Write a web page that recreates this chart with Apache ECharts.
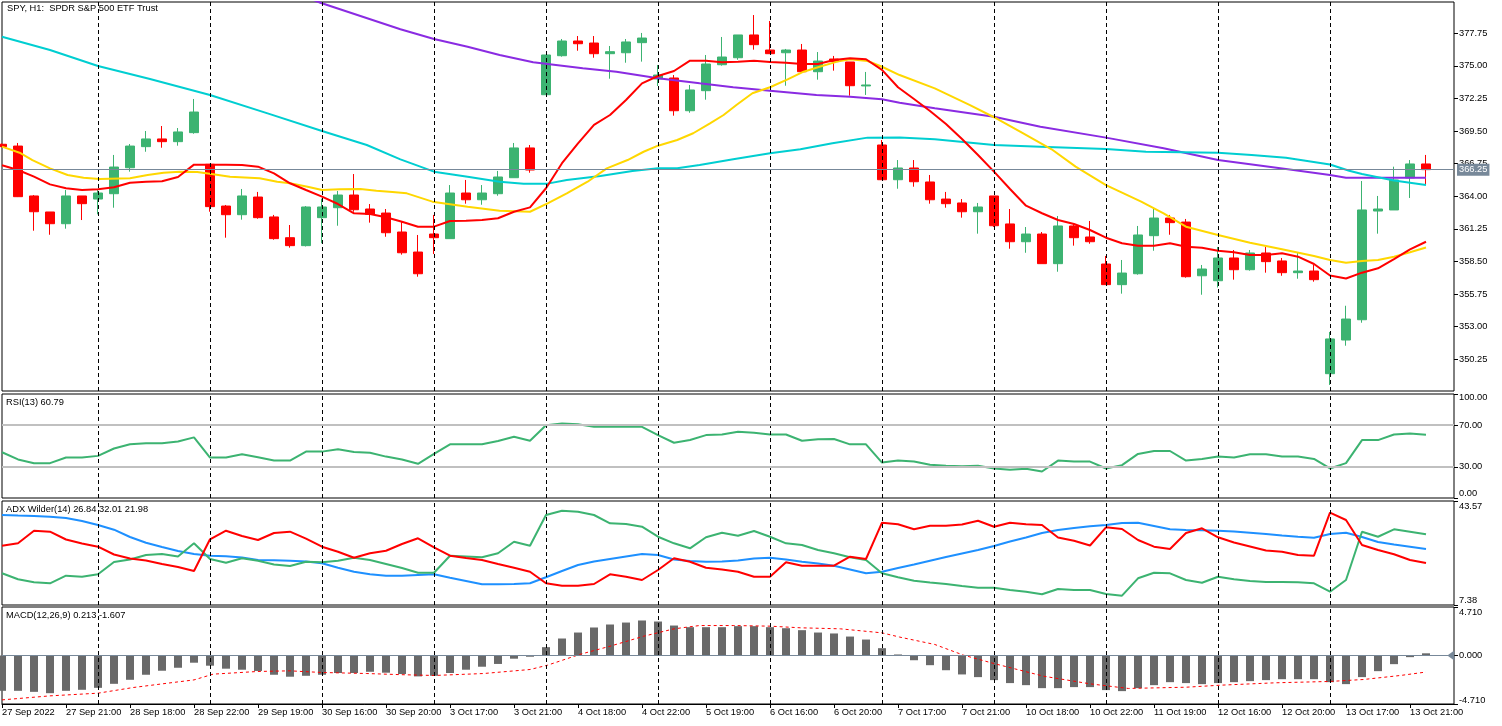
<!DOCTYPE html>
<html><head><meta charset="utf-8">
<script src="https://cdn.jsdelivr.net/npm/echarts@6.0.0/dist/echarts.min.js"></script>
<style>html,body{margin:0;padding:0;background:#fff;}#c{width:1502px;height:726px;}</style>
</head><body><div id="c"></div>
<script>
// ---------- DATA ----------
const days = ['27 Sep','28 Sep','29 Sep','30 Sep','3 Oct','4 Oct','5 Oct','6 Oct','7 Oct','10 Oct','11 Oct','12 Oct','13 Oct'];
const hours = ['16:00','17:00','18:00','19:00','20:00','21:00','22:00'];
const categories = [];
days.forEach(d => hours.forEach(h => categories.push(d + ' ' + h)));
categories.shift(); // first visible bar is 27 Sep 17:00

const opens  = [368.39,368.24,364.03,362.68,361.69,364.03,363.77,364.22,366.41,368.19,368.84,368.61,369.37,366.70,363.18,362.45,363.94,362.26,360.51,359.84,362.20,363.04,364.11,362.93,362.59,360.99,359.30,360.82,360.43,364.28,363.71,364.22,365.57,368.08,372.57,375.86,377.10,376.93,376.03,376.11,376.96,373.90,373.98,371.22,372.91,375.10,375.69,377.61,376.34,376.11,376.34,374.51,375.58,375.33,373.31,368.33,365.40,366.39,365.21,363.77,363.44,362.70,364.03,361.67,360.17,360.82,358.32,361.50,360.57,358.29,356.55,357.47,360.68,362.17,361.83,357.30,356.88,358.80,357.81,359.22,358.55,357.56,357.70,349.04,351.88,353.59,362.76,362.85,365.55,366.73];
const closes = [368.19,363.97,362.70,361.69,364.03,363.38,364.28,366.47,368.24,368.84,368.61,369.43,371.11,363.13,362.45,364.03,362.20,360.43,359.84,363.10,363.10,364.11,362.87,362.48,360.93,359.24,357.47,360.51,364.28,363.71,364.28,365.63,368.08,366.22,375.92,377.10,376.87,376.03,376.20,377.02,377.35,374.23,371.22,372.97,375.16,375.75,377.61,376.79,376.03,376.34,374.51,375.41,375.36,373.33,373.39,365.40,366.39,365.23,363.71,363.38,362.70,363.10,361.52,360.17,360.82,358.32,361.50,360.51,360.17,356.55,357.53,360.74,362.17,361.78,357.22,357.87,358.80,357.81,359.22,358.49,357.56,357.70,356.97,351.97,353.65,362.85,362.93,365.38,366.73,366.25];
const lows   = [368.15,363.94,361.10,360.76,361.27,362.00,362.48,363.04,366.08,367.76,368.10,368.27,369.28,362.70,360.51,362.03,362.11,360.34,359.67,359.77,360.04,361.52,362.70,361.78,360.59,359.08,357.22,359.13,360.43,363.38,363.29,364.05,365.57,365.99,372.57,375.78,376.28,375.69,373.92,375.27,375.36,373.31,370.80,371.05,372.15,375.02,375.52,376.37,376.03,373.33,374.51,373.84,374.60,372.49,372.55,365.40,364.64,364.81,363.38,363.04,362.20,360.85,361.41,359.58,359.24,358.32,357.64,359.84,360.00,356.55,355.79,357.39,359.41,360.76,357.14,355.70,356.31,356.97,357.73,357.56,357.30,357.05,356.80,348.09,351.40,353.34,360.85,362.85,363.86,365.04];
const highs  = [368.45,368.50,364.11,362.68,364.53,364.03,364.53,367.49,368.41,369.51,369.93,369.76,372.21,366.73,363.27,364.62,364.37,362.43,361.58,363.18,363.80,364.45,365.88,363.35,362.93,361.83,360.74,362.43,364.95,365.38,364.95,366.14,368.50,368.33,375.92,377.27,377.52,377.52,376.68,377.27,377.78,375.08,374.23,373.39,375.92,377.44,377.61,379.29,378.79,376.43,376.85,376.17,375.84,375.33,374.49,368.75,367.06,367.06,365.80,364.37,363.77,363.44,364.03,362.93,361.41,360.99,362.34,361.67,361.92,358.97,358.63,361.50,363.02,362.43,362.09,358.21,359.73,359.47,359.47,359.73,358.80,359.22,358.21,352.56,354.77,365.29,364.03,366.50,367.06,367.49];

const maRed = [366.62,366.22,365.66,365.01,364.68,364.53,364.59,364.76,365.15,365.23,365.27,365.63,366.67,366.67,366.67,366.64,366.50,365.94,365.10,364.53,363.97,363.35,362.57,362.51,362.23,361.86,361.44,361.44,361.92,361.94,362.00,362.15,362.70,363.07,364.68,366.79,368.47,370.02,370.86,372.13,373.53,374.15,374.57,375.44,375.44,375.31,375.36,375.44,375.33,375.27,375.16,375.16,375.50,375.64,375.56,374.66,373.20,372.21,371.20,370.10,368.84,367.49,366.08,364.62,363.21,362.57,362.00,361.67,361.16,360.51,360.04,359.84,359.84,360.04,359.75,359.67,359.41,359.28,359.05,359.05,359.19,358.91,358.29,357.32,357.07,357.56,357.93,358.71,359.52,360.17];
const maYellow = [[0,368.19],[1.1,367.68],[1.9,367.06],[3,366.36],[4.1,365.80],[5.1,365.57],[6.1,365.46],[8,365.52],[9.1,365.80],[10.1,365.99],[11.1,366.08],[12.2,366.05],[13.2,365.86],[14.25,365.65],[16.1,365.52],[17.2,365.23],[18,365.10],[19.1,364.81],[20,364.53],[21.1,364.59],[22.4,364.62],[23.4,364.47],[24.4,364.36],[25.3,364.25],[26.9,363.55],[29.1,363.12],[31.1,362.79],[33,362.70],[34.1,363.41],[35.3,364.25],[36.6,365.23],[37.8,366.36],[39.1,367.06],[40.1,367.76],[41,368.27],[42.2,368.75],[43.2,369.32],[44.25,370.16],[45.1,370.86],[45.9,371.70],[46.9,372.69],[48,373.20],[49.1,373.87],[50.1,374.51],[51.1,374.93],[52.2,375.36],[53,375.56],[54.1,375.41],[55,374.93],[56.1,374.23],[58.3,373.11],[60.5,371.70],[62,370.67],[63.8,369.32],[65.6,367.97],[67.1,366.50],[69,364.95],[71.2,363.55],[72.6,362.57],[74,361.44],[76,360.74],[78,360.09],[80,359.53],[82,358.97],[83,358.63],[84,358.40],[85,358.54],[86,358.63],[87,358.91],[88,359.28],[89,359.68]];
const maCyan = [[0,377.46],[3,376.34],[6,374.99],[9.25,373.90],[13,372.55],[16.6,371.00],[20,369.51],[22.8,368.33],[24.9,367.12],[27,366.08],[29.1,365.66],[31.1,365.23],[32.6,365.07],[34.1,365.07],[35.3,365.38],[37.4,365.71],[39.4,366.14],[41,366.36],[42.2,366.36],[43.6,366.64],[45.7,367.12],[48,367.63],[49.9,367.97],[51.9,368.47],[54.1,368.95],[56.1,368.96],[58.3,368.81],[62,368.33],[64.9,368.19],[69,367.99],[71.5,367.76],[76,367.68],[78.1,367.49],[80.25,367.26],[83,366.68],[84.2,366.16],[85,365.88],[87,365.33],[89,364.95]];
const maPurple = [[18.5,381.07],[19.9,380.33],[24.9,378.09],[27,377.27],[29.1,376.62],[31.1,375.92],[33.2,375.31],[34.1,375.16],[36.3,374.80],[38.4,374.51],[41,373.96],[43.6,373.53],[45.7,373.20],[48,372.91],[50.9,372.55],[53,372.40],[55,372.18],[56.1,371.90],[58.3,371.42],[62,370.72],[64.9,369.87],[69,368.95],[72.6,368.05],[76,367.06],[80.25,366.30],[83,365.80],[84,365.57],[89,365.57]];

const rsi = [44.0,37.1,33.5,33.5,38.9,38.9,40.5,47.6,51.6,52.6,52.6,54.3,58.3,38.9,38.9,42.1,39.2,36.0,36.0,44.6,44.6,46.9,44.3,43.6,39.8,37.1,32.9,42.4,51.6,51.6,51.6,54.8,58.9,55.0,70.0,71.6,71.0,68.4,68.4,68.4,68.4,60.5,53.1,55.7,60.5,61.1,63.6,62.7,61.1,61.1,55.0,56.4,56.7,51.6,51.6,34.1,36.0,35.0,31.9,31.0,30.5,31.0,28.4,27.1,28.1,25.5,36.0,35.0,35.0,28.4,31.6,42.4,45.2,45.2,36.0,37.6,39.8,38.9,42.1,42.1,39.8,39.8,37.6,28.4,33.5,55.7,55.7,61.0,62.1,60.79];

const adxMain = [38.70,38.52,38.35,38.10,37.65,36.61,35.22,33.58,31.04,29.06,27.56,26.17,25.13,24.53,24.33,23.91,23.04,22.93,22.79,22.52,21.89,20.36,18.97,18.06,17.57,17.57,17.82,18.06,16.88,15.73,14.58,14.58,14.69,14.93,17.02,19.21,21.30,22.52,23.39,24.26,25.13,24.78,23.21,22.69,22.45,22.52,22.86,23.56,23.84,23.21,22.45,21.82,21.05,19.73,18.41,18.97,20.25,21.47,22.79,24.08,25.30,26.52,27.91,29.47,30.87,32.43,33.48,34.17,34.76,35.22,35.91,36.02,34.87,33.72,33.48,33.37,33.23,32.95,32.54,32.08,31.56,31.14,30.80,32.08,32.54,31.04,29.30,28.43,27.67,26.84];
const plusDI = [18.41,16.32,15.28,14.93,17.57,17.23,18.06,22.34,23.21,24.78,25.13,24.26,28.85,23.39,22.10,23.63,22.79,21.47,20.95,22.45,22.24,22.79,23.84,23.04,21.65,20.25,18.62,18.62,24.53,24.26,23.98,25.37,29.41,28.01,38.70,40.19,39.84,38.70,35.81,35.56,34.62,31.14,28.85,27.11,30.94,32.54,31.49,33.13,31.14,28.85,28.26,26.52,25.37,23.98,23.04,18.41,17.02,15.84,15.21,14.69,13.99,13.40,13.40,12.60,12.01,11.10,12.95,12.60,12.60,11.21,10.62,16.67,18.62,18.41,16.08,15.14,17.23,16.32,15.73,15.38,15.38,15.28,14.93,12.01,16.08,32.89,31.14,33.72,32.89,32.01];
const minusDI = [28.01,28.85,33.23,32.89,30.17,28.78,27.67,24.95,23.56,22.86,21.65,20.60,19.21,30.24,33.23,31.39,29.99,32.43,32.89,30.45,27.67,25.93,23.84,25.37,26.27,28.60,30.59,27.46,24.53,23.73,23.04,21.65,20.36,18.97,14.93,14.10,14.10,14.69,18.06,17.23,16.08,19.56,23.63,22.45,20.36,19.73,18.97,17.23,17.23,22.24,21.05,21.05,21.05,24.19,23.39,36.02,35.46,33.72,34.97,34.97,35.39,36.71,34.62,36.02,35.46,35.22,30.87,29.75,28.08,34.42,33.82,29.99,27.67,26.87,32.43,34.07,30.94,29.13,27.74,26.34,25.93,24.78,24.53,39.50,36.96,28.26,26.52,25.02,23.04,21.98];

const macdHist = [-3.43,-3.43,-3.53,-3.66,-3.43,-3.33,-3.14,-2.75,-2.36,-1.87,-1.48,-1.19,-0.70,-0.99,-1.28,-1.38,-1.50,-1.87,-2.06,-1.97,-1.87,-1.70,-1.70,-1.58,-1.67,-1.80,-2.03,-1.97,-1.70,-1.38,-1.09,-0.82,-0.31,-0.12,0.81,1.65,2.23,2.72,3.01,3.20,3.40,3.30,2.91,2.75,2.75,2.75,2.85,2.85,2.75,2.65,2.46,2.23,2.14,1.84,1.55,0.71,0.10,-0.46,-0.94,-1.43,-1.84,-2.10,-2.39,-2.68,-2.88,-3.17,-3.17,-3.07,-3.07,-3.36,-3.46,-3.17,-2.88,-2.59,-2.68,-2.78,-2.68,-2.59,-2.49,-2.39,-2.30,-2.30,-2.30,-2.59,-2.78,-2.10,-1.52,-0.84,-0.16,0.213];
const macdSignal = [[0,-4.31],[3,-3.92],[6,-3.66],[8.2,-3.11],[10.7,-2.62],[12,-2.37],[13.2,-1.81],[16,-1.55],[18,-1.49],[20,-1.65],[22.8,-1.75],[24.9,-1.86],[27,-1.94],[30.1,-1.75],[33,-1.36],[34.1,-0.94],[36.1,0.10],[38,0.90],[40.1,1.87],[42,2.59],[43.6,2.91],[45.7,2.91],[48,2.85],[49.9,2.69],[52.4,2.59],[55,2.20],[56.1,1.79],[58.3,1.07],[60.1,0.03],[62,-0.78],[65.1,-2.01],[68,-2.75],[70.4,-3.20],[74,-3.08],[76.2,-2.88],[79.6,-2.65],[83,-2.52],[85.1,-2.33],[87.4,-1.94],[89,-1.607]];

const priceTicks = [350.25,353.00,355.75,358.50,361.25,364.00,366.75,369.50,372.25,375.00,377.75];
const lastPrice = 366.25;
const xTickIdx = [0,4,8,12,16,20,24,28,32,36,40,44,48,52,56,60,64,68,72,76,80,84,88];
const xTickLabels = ['27 Sep 2022','27 Sep 21:00','28 Sep 18:00','28 Sep 22:00','29 Sep 19:00','30 Sep 16:00','30 Sep 20:00','3 Oct 17:00','3 Oct 21:00','4 Oct 18:00','4 Oct 22:00','5 Oct 19:00','6 Oct 16:00','6 Oct 20:00','7 Oct 17:00','7 Oct 21:00','10 Oct 18:00','10 Oct 22:00','11 Oct 19:00','12 Oct 16:00','12 Oct 20:00','13 Oct 17:00','13 Oct 21:00'];
const dayStartIdx = [6,13,20,27,34,41,48,55,62,69,76,83];

// ---------- CHART ----------
const FONT = 'Liberation Sans';
const FS = 9.3;
const XMIN = 0, XMAX = 90.75;
const gridDefs = [
  {top: 2, height: 389},
  {top: 394, height: 104},
  {top: 501, height: 104},
  {top: 607, height: 97}
];
const grid = gridDefs.map(g => ({left: 2, right: 48, top: g.top, height: g.height, show: true,
  borderColor: '#000', borderWidth: 1, backgroundColor: 'transparent', containLabel: false, outerBoundsMode: 'none'}));

const xAxis = gridDefs.map((g, k) => ({
  type: 'value', gridIndex: k, min: XMIN, max: XMAX, position: 'bottom',
  axisLine: {show: k === 3, onZero: false, lineStyle: {color: '#000'}},
  axisTick: {show: k === 3, customValues: xTickIdx, length: 4, lineStyle: {color: '#000'}},
  axisLabel: {show: k === 3, customValues: xTickIdx, align: 'left', margin: 4,
    color: '#000', fontFamily: FONT, fontSize: FS,
    formatter: v => { const j = xTickIdx.indexOf(Math.round(v)); return j >= 0 ? xTickLabels[j] : ''; }},
  splitLine: {show: false}
}));

const rsiTickVals = [0, 30, 70, 100];
const rsiLabelPos = [4.5, 30, 70, 97.1];
const rsiLabelText = ['0.00', '30.00', '70.00', '100.00'];
const adxTickVals = [7.38, 43.57];
const adxLabelPos = [9.12, 41.59];
const adxLabelText = ['7.38', '43.57'];
const macdTickVals = [-4.71, 0, 4.71];
const macdLabelPos = [-4.32, 0, 4.16];
const macdLabelText = ['-4.710', '0.000', '4.710'];

function yAx(k, min, max, tickVals, labelPos, labelFn) {
  return {
    type: 'value', gridIndex: k, position: 'right', min: min, max: max, scale: true,
    axisLine: {show: false, onZero: false},
    axisTick: {show: true, inside: false, length: 4, customValues: tickVals, lineStyle: {color: '#000'}},
    axisLabel: {show: true, customValues: labelPos, margin: 5, color: '#000', fontFamily: FONT, fontSize: FS, formatter: labelFn},
    splitLine: {show: false}
  };
}
const pickLabel = (pos, txt) => v => { let b = 0, d = 1e9; pos.forEach((p, i) => { const dd = Math.abs(p - v); if (dd < d) { d = dd; b = i; } }); return txt[b]; };

const yAxis = [
  yAx(0, 347.58, 380.39, priceTicks, priceTicks, v => v.toFixed(2)),
  yAx(1, 0, 100, rsiTickVals, rsiLabelPos, pickLabel(rsiLabelPos, rsiLabelText)),
  yAx(2, 7.38, 43.57, adxTickVals, adxLabelPos, pickLabel(adxLabelPos, adxLabelText)),
  yAx(3, -4.71, 4.71, macdTickVals, macdLabelPos, pickLabel(macdLabelPos, macdLabelText))
];

const dayLines = k => ({
  type: 'line', xAxisIndex: k, yAxisIndex: k, data: [], symbol: 'none', silent: true, z: 1,
  markLine: {silent: true, symbol: ['none', 'none'], animation: false, label: {show: false},
    lineStyle: {color: '#000', type: [4, 3], width: 1},
    data: dayStartIdx.map(i => ({xAxis: i}))}
});

const candleData = opens.map((o, i) => [i, o, closes[i], lows[i], highs[i]]);
const idxData = arr => arr.map((v, i) => [i, v]);
const lineS = (k, data, color, width, extra) => Object.assign({
  type: 'line', xAxisIndex: k, yAxisIndex: k, data: data, symbol: 'none', silent: true,
  lineStyle: {color: color, width: width}, z: 4, clip: true, animation: false
}, extra || {});

const series = [
  dayLines(0), dayLines(1), dayLines(2), dayLines(3),
  {
    type: 'candlestick', xAxisIndex: 0, yAxisIndex: 0, data: candleData, barWidth: 10, z: 3, clip: true,
    itemStyle: {color: '#3cb371', color0: '#ff0000', borderColor: '#3cb371', borderColor0: '#ff0000', borderWidth: 1},
    markLine: {silent: true, symbol: ['none', 'none'], animation: false,
      data: [{yAxis: lastPrice,
        lineStyle: {color: '#778899', type: 'solid', width: 1},
        label: {show: true, position: 'end', distance: 3, formatter: lastPrice.toFixed(2),
          backgroundColor: '#778899', color: '#fff', fontFamily: FONT, fontSize: FS, padding: [2, 2, 1, 2]}}]}
  },
  lineS(0, maPurple, '#8a2be2', 2),
  lineS(0, maCyan, '#00ced1', 2),
  lineS(0, maYellow, '#ffd700', 2),
  lineS(0, idxData(maRed), '#ff0000', 2),
  lineS(1, idxData(rsi), '#3cb371', 2, {
    markLine: {silent: true, symbol: ['none', 'none'], animation: false, label: {show: false},
      lineStyle: {color: '#c0c0c0', type: 'solid', width: 2}, data: [{yAxis: 70}, {yAxis: 30}]}, z: 2}),
  lineS(2, idxData(adxMain), '#1e90ff', 2),
  lineS(2, idxData(plusDI), '#3cb371', 2),
  lineS(2, idxData(minusDI), '#ff0000', 2),
  {
    type: 'bar', xAxisIndex: 3, yAxisIndex: 3, data: idxData(macdHist), barWidth: 8, silent: true, z: 3,
    itemStyle: {color: '#696969'},
    markLine: {silent: true, symbol: ['none', 'none'], animation: false, label: {show: false},
      lineStyle: {color: '#778899', type: 'solid', width: 1}, data: [{yAxis: 0}]},
    markPoint: {silent: true, animation: false, symbol: 'triangle', symbolSize: [10, 7], symbolRotate: 90,
      itemStyle: {color: '#778899'}, label: {show: false}, data: [{coord: [90.55, 0]}]}
  },
  lineS(3, macdSignal, '#ff0000', 1, {lineStyle: {color: '#ff0000', width: 1, type: [3, 3]}})
];

const txt = (x, y, s) => ({type: 'text', left: x, top: y, silent: true,
  style: {text: s, fill: '#000', font: FS + 'px "' + FONT + '"'}});
const graphic = [
  txt(7, 4, 'SPY, H1:  SPDR S&P 500 ETF Trust'),
  txt(6, 398, 'RSI(13) 60.79'),
  txt(6, 505, 'ADX Wilder(14) 26.84 32.01 21.98'),
  txt(6, 611, 'MACD(12,26,9) 0.213 -1.607')
];

const chart = echarts.init(document.getElementById('c'), null, {renderer: 'canvas'});
chart.setOption({
  backgroundColor: '#fff', animation: false,
  textStyle: {fontFamily: FONT},
  grid: grid, xAxis: xAxis, yAxis: yAxis, series: series, graphic: graphic
});
</script></body></html>
